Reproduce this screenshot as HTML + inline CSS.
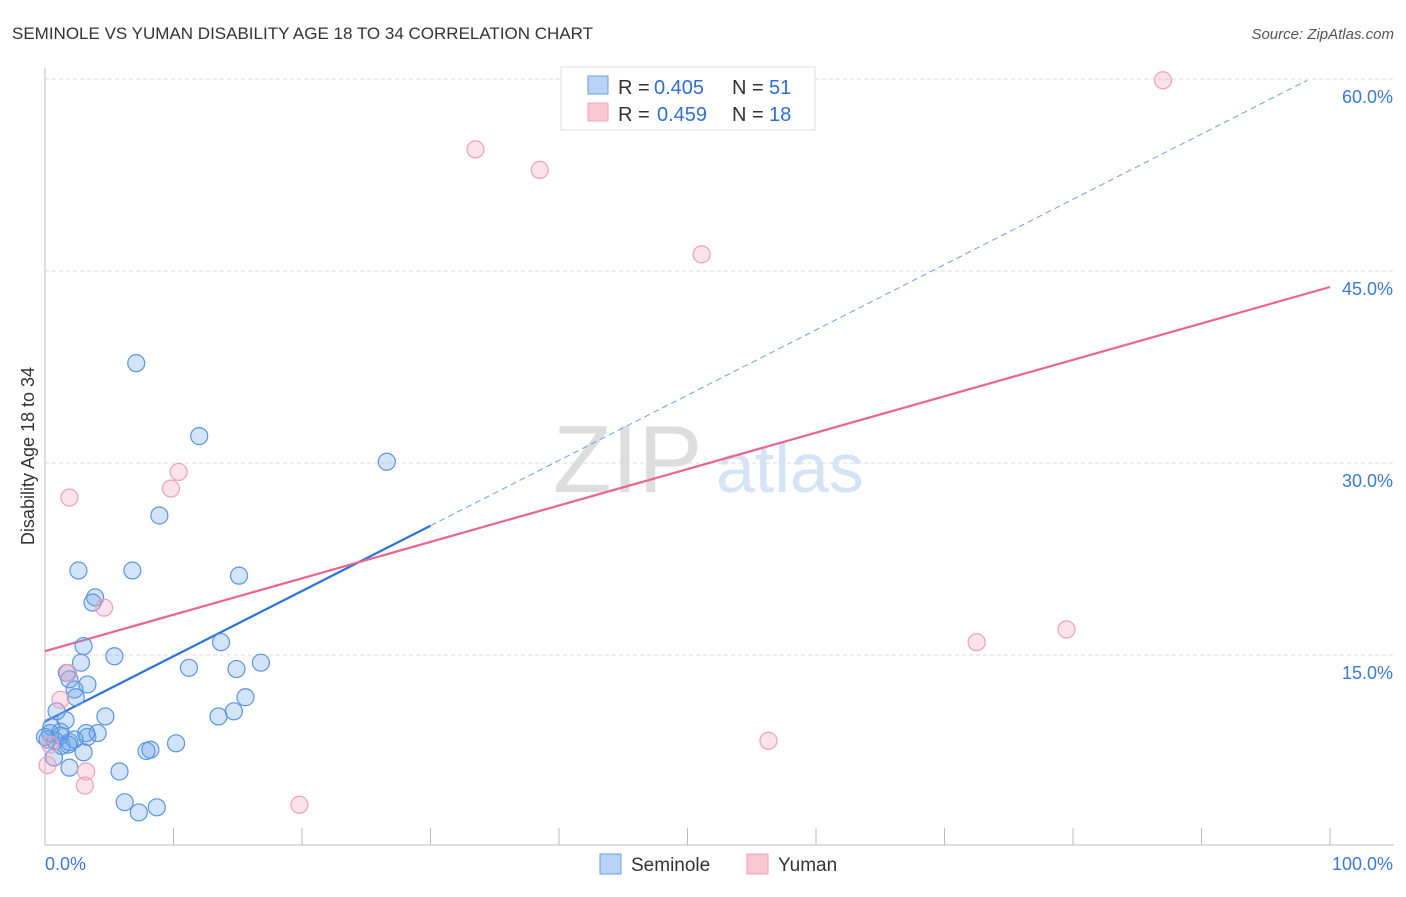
<!DOCTYPE html>
<html><head><meta charset="utf-8"><style>
body{margin:0;background:#fff;font-family:"Liberation Sans",sans-serif;}
svg text{font-family:"Liberation Sans",sans-serif;}
</style></head><body>
<svg id="chart" width="1406" height="892">
<text x="12" y="39" font-size="17" fill="#333">SEMINOLE VS YUMAN DISABILITY AGE 18 TO 34 CORRELATION CHART</text>
<text x="1394" y="39" font-size="15" fill="#555" text-anchor="end" font-style="italic">Source: ZipAtlas.com</text>
<text x="0" y="0" font-size="18" fill="#333" transform="translate(34,456) rotate(-90)" text-anchor="middle">Disability Age 18 to 34</text>
<g>
<text x="553" y="492" font-size="96" fill="#ddd" font-family="Liberation Serif,serif">ZIP</text>
<text x="716" y="492" font-size="70" fill="#d4e3f5">atlas</text>
</g>
<g id="grid"></g>
<g id="axes"></g>
<g id="lines"></g>
<g id="points"></g>
<g>
<rect x="561" y="67" width="254" height="63" fill="#fff" stroke="#ddd"/>
<rect x="588" y="76" width="20" height="18" fill="#b8d4f5" stroke="#6aa0e0"/>
<text x="618" y="94" font-size="20" fill="#333">R =</text>
<text x="654" y="94" font-size="20" fill="#2f6fd1">0.405</text>
<text x="732" y="94" font-size="20" fill="#333">N =</text>
<text x="769" y="94" font-size="20" fill="#2f6fd1">51</text>
<rect x="588" y="103" width="20" height="18" fill="#f8c8d6" stroke="#f0a0b8"/>
<text x="618" y="121" font-size="20" fill="#333">R =</text>
<text x="657" y="121" font-size="20" fill="#2f6fd1">0.459</text>
<text x="732" y="121" font-size="20" fill="#333">N =</text>
<text x="769" y="121" font-size="20" fill="#2f6fd1">18</text>
</g>
<g>
<rect x="600" y="854" width="21" height="20" fill="#b8d4f5" stroke="#6aa0e0"/>
<text x="631" y="871" font-size="19" fill="#333">Seminole</text>
<rect x="747" y="854" width="21" height="20" fill="#f8c8d6" stroke="#f0a0b8"/>
<text x="778" y="871" font-size="19" fill="#333">Yuman</text>
</g>
</svg>
<script>
const blueX=[7.1,12.0,26.6,8.9,2.6,6.8,15.1,3.9,3.7,3.0,13.7,5.4,2.8,16.8,11.2,14.9,1.7,1.9,2.3,2.4,3.3,15.6,14.7,13.5,4.7,0.9,1.6,0.5,1.2,0.8,0.2,1.3,1.9,3.3,4.1,3.2,8.2,7.9,10.2,3.0,1.9,0.7,5.8,6.2,7.3,8.7,0.4,1.8,0.0,1.2,2.3];
const blueY=[37.8,32.1,30.1,25.9,21.6,21.6,21.2,19.5,19.1,15.7,16.0,14.9,14.4,14.4,14.0,13.9,13.6,13.1,12.3,11.7,12.7,11.7,10.6,10.2,10.2,10.6,9.9,9.4,8.7,8.3,8.4,7.9,8.2,8.6,8.9,8.9,7.6,7.5,8.1,7.4,6.2,7.0,5.9,3.5,2.7,3.1,8.9,8.0,8.6,9.0,8.4];
const pinkX=[87.0,33.5,38.5,51.1,10.4,9.8,1.9,4.6,72.5,79.5,1.8,1.2,56.3,3.2,3.1,19.8,0.2,0.4];
const pinkY=[59.9,54.5,52.9,46.3,29.3,28.0,27.3,18.7,16.0,17.0,13.6,11.5,8.3,5.9,4.8,3.3,6.4,8.0];
const yTicks=[15,30,45,60];
const yTickLabels=["15.0%","30.0%","45.0%","60.0%"];
const xTicks=[0,10,20,30,40,50,60,70,80,90,100];
const blueTrend=[9.8,0.51];
const pinkTrend=[15.3,0.2845];
const NS="http://www.w3.org/2000/svg";
const sx=v=>45+v*12.85, sy=v=>847-v*12.8;
function mk(parent,tag,attrs){const e=document.createElementNS(NS,tag);for(const k in attrs)e.setAttribute(k,attrs[k]);document.getElementById(parent).appendChild(e);return e;}
yTicks.forEach((t,i)=>{
 const l=mk('grid','line',{x1:45,x2:1394,y1:sy(t),y2:sy(t),stroke:'#ddd','stroke-dasharray':'4,3'});
 
 
 const tx=mk('grid','text',{x:1393,y:sy(t)+24,'font-size':18,fill:'#3b78d8','text-anchor':'end'});
 tx.textContent=yTickLabels[i];
 
 
});
const ax=mk('axes','line',{x1:45,x2:1394,y1:845,y2:845,stroke:'#bbb'});


const ay=mk('axes','line',{x1:45,x2:45,y1:68,y2:845,stroke:'#bbb'});


xTicks.forEach(t=>{
 const l=mk('axes','line',{x1:sx(t),x2:sx(t),y1:828,y2:845,stroke:'#bbb'});
 
 
});
const xl0=mk('axes','text',{x:45,y:870,'font-size':18,fill:'#3b78d8'});xl0.textContent='0.0%';


const xl1=mk('axes','text',{x:1393,y:870,'font-size':18,fill:'#3b78d8','text-anchor':'end'});xl1.textContent='100.0%';


function pts(xs,ys,fill,stroke,name){xs.forEach((x,i)=>{
 const c=mk('points','circle',{cx:sx(x),cy:sy(ys[i]),r:8.5,fill:fill,stroke:stroke,'stroke-width':1.2});
 
 
});}
pts(blueX,blueY,'rgba(110,165,235,0.3)','#5b95dd','seminole-point');
pts(pinkX,pinkY,'rgba(245,160,190,0.3)','#eea0b8','yuman-point');
const bEnd=30, bDash=(60-blueTrend[0])/blueTrend[1]-0.2;
const b1=mk('lines','line',{x1:sx(0),y1:sy(blueTrend[0]),x2:sx(bEnd),y2:sy(blueTrend[0]+blueTrend[1]*bEnd),stroke:'#2a74d8','stroke-width':2.2});


const b2=mk('lines','line',{x1:sx(bEnd),y1:sy(blueTrend[0]+blueTrend[1]*bEnd),x2:sx(bDash),y2:sy(blueTrend[0]+blueTrend[1]*bDash),stroke:'#6aa0e0','stroke-width':1,'stroke-dasharray':'6,4'});


const p1=mk('lines','line',{x1:sx(0),y1:sy(pinkTrend[0]),x2:sx(100),y2:sy(pinkTrend[0]+pinkTrend[1]*100),stroke:'#e8658f','stroke-width':2.2});


</script>
</body></html>
